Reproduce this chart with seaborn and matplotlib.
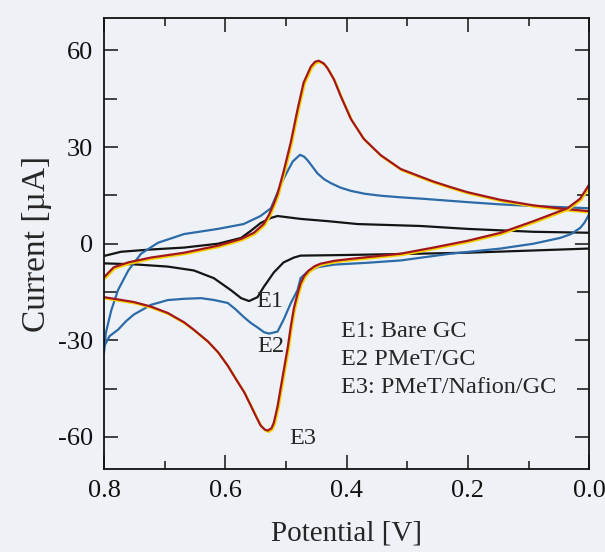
import numpy as np
import pandas as pd
import seaborn as sns
import matplotlib
matplotlib.use('Agg')
from matplotlib import pyplot as plt
import matplotlib.patheffects as pe
from matplotlib.ticker import MultipleLocator, FormatStrFormatter


## DADOS

# E3: PMeT/Nafion/GC  (vermelho)
e3_up_x = [0.800, 0.784, 0.760, 0.723, 0.668, 0.612, 0.574, 0.553, 0.537, 0.528, 0.520, 0.514, 0.504,
           0.492, 0.481, 0.471, 0.459, 0.452, 0.446, 0.438, 0.432, 0.421, 0.410, 0.393, 0.372, 0.344,
           0.311, 0.278, 0.257, 0.229, 0.201, 0.146, 0.092, 0.036, 0.0]
e3_up_y = [-10.4, -7.3, -5.8, -4.3, -2.8, -0.6, 1.5, 3.4, 6.1, 9.0, 12.5, 15.5, 22.4,
           31.6, 41.7, 50.0, 55.0, 56.5, 56.8, 56.0, 54.6, 51.0, 45.9, 38.7, 32.6, 27.5,
           23.2, 20.8, 19.3, 17.6, 16.0, 13.6, 11.9, 10.7, 10.1]
e3_dn_x = [0.800, 0.751, 0.723, 0.695, 0.668, 0.652, 0.629, 0.612, 0.596, 0.586, 0.569, 0.558, 0.549,
           0.542, 0.535, 0.530, 0.524, 0.520, 0.514, 0.509, 0.503, 0.497, 0.492, 0.487, 0.481, 0.476,
           0.470, 0.463, 0.453, 0.443, 0.420, 0.393, 0.311, 0.257, 0.201, 0.146, 0.092, 0.036, 0.015, 0.0]
e3_dn_y = [-16.6, -18.1, -19.5, -21.5, -24.4, -26.7, -30.3, -33.7, -37.9, -41.0, -46.1, -50.3, -53.8,
           -56.4, -57.7, -58.0, -57.3, -55.5, -50.5, -45.0, -38.5, -32.0, -25.5, -20.0, -15.5, -12.3,
           -10.0, -8.4, -7.0, -6.2, -5.3, -4.7, -3.1, -1.2, 0.9, 3.4, 7.0, 11.0, 14.0, 18.4]

# E2: PMeT/GC  (azul)
e2_up_x = [0.800, 0.797, 0.788, 0.777, 0.760, 0.739, 0.711, 0.668, 0.612, 0.570, 0.542, 0.525, 0.520,
           0.504, 0.489, 0.477, 0.470, 0.464, 0.456, 0.448, 0.437, 0.426, 0.410, 0.393, 0.370, 0.344,
           0.311, 0.278, 0.200, 0.146, 0.092, 0.0]
e2_up_y = [-33.7, -27.6, -20.6, -14.4, -8.3, -3.1, 0.3, 3.0, 4.6, 6.1, 8.6, 11.0, 13.2,
           20.2, 25.5, 27.6, 27.0, 25.8, 23.8, 21.8, 20.0, 18.8, 17.4, 16.4, 15.5, 14.9,
           14.4, 14.0, 12.9, 12.2, 11.7, 11.0]
e2_dn_x = [0.800, 0.791, 0.777, 0.764, 0.751, 0.736, 0.723, 0.695, 0.668, 0.640, 0.618, 0.596, 0.583,
           0.570, 0.558, 0.547, 0.536, 0.528, 0.514, 0.504, 0.492, 0.481, 0.476, 0.464, 0.448, 0.421,
           0.365, 0.311, 0.229, 0.146, 0.092, 0.048, 0.030, 0.015, 0.008, 0.0]
e2_dn_y = [-31.9, -28.7, -26.7, -24.1, -22.0, -20.4, -19.0, -17.5, -17.1, -16.9, -17.5, -18.4, -20.4,
           -22.7, -24.6, -26.0, -27.5, -27.9, -27.3, -23.6, -18.4, -14.4, -10.7, -8.6, -7.3, -6.5,
           -5.9, -5.2, -3.1, -1.5, 0.0, 1.8, 3.0, 4.9, 6.5, 9.2]

# E1: Bare GC  (preto)
e1_up_x = [0.800, 0.772, 0.723, 0.668, 0.612, 0.574, 0.558, 0.542, 0.525, 0.514, 0.476, 0.431,
           0.382, 0.278, 0.201, 0.092, 0.0]
e1_up_y = [-3.8, -2.5, -1.8, -1.2, 0.0, 1.8, 4.0, 6.4, 8.0, 8.6, 7.7, 7.0,
           6.1, 5.5, 4.6, 3.7, 3.4]
e1_dn_x = [0.800, 0.751, 0.695, 0.652, 0.619, 0.591, 0.574, 0.561, 0.547, 0.537, 0.520, 0.504,
           0.487, 0.476, 0.400, 0.311, 0.201, 0.092, 0.0]
e1_dn_y = [-6.1, -6.4, -7.1, -8.3, -10.7, -14.4, -16.9, -17.8, -16.6, -13.5, -8.9, -5.8,
           -4.3, -3.7, -3.5, -3.2, -2.8, -2.1, -1.5]

legenda = ['E1: Bare GC', 'E2 PMeT/GC', 'E3: PMeT/Nafion/GC']


## ESTILO

sns.set_style('ticks')
plt.rcParams['font.family'] = ['Liberation Serif', 'DejaVu Serif']
plt.rcParams['axes.unicode_minus'] = False
fundo = '#eef2f6'

fig = plt.figure(figsize=(6.05, 5.52), dpi=100, facecolor=fundo)
ax = fig.add_axes([0.172, 0.150, 0.802, 0.817])
ax.set_facecolor(fundo)

sombra = [pe.SimpleLineShadow(offset=(0.8, -1.0), shadow_color='#f5d000', alpha=1.0), pe.Normal()]

# E1 (preto)
sns.lineplot(x=e1_up_x, y=e1_up_y, sort=False, estimator=None, color='#141414', lw=1.6, ax=ax)
sns.lineplot(x=e1_dn_x, y=e1_dn_y, sort=False, estimator=None, color='#141414', lw=1.6, ax=ax)

# E2 (azul)
sns.lineplot(x=e2_up_x, y=e2_up_y, sort=False, estimator=None, color='#2c6aa8', lw=1.6, ax=ax)
sns.lineplot(x=e2_dn_x, y=e2_dn_y, sort=False, estimator=None, color='#2c6aa8', lw=1.6, ax=ax)

# E3 (vermelho com sombra amarela)
sns.lineplot(x=e3_up_x, y=e3_up_y, sort=False, estimator=None, color='#a3161c', lw=1.6, ax=ax,
             path_effects=sombra)
sns.lineplot(x=e3_dn_x, y=e3_dn_y, sort=False, estimator=None, color='#a3161c', lw=1.6, ax=ax,
             path_effects=sombra)


## EIXOS

ax.set_xlim(0.8, 0.0)
ax.set_ylim(-70, 70)
ax.xaxis.set_major_locator(MultipleLocator(0.2))
ax.xaxis.set_minor_locator(MultipleLocator(0.1))
ax.yaxis.set_major_locator(MultipleLocator(30))
ax.yaxis.set_minor_locator(MultipleLocator(15))
ax.xaxis.set_major_formatter(FormatStrFormatter('%.1f'))
ax.tick_params(which='both', direction='in', top=True, right=True, colors='#111111',
               labelsize=19, width=1.1)
ax.tick_params(which='major', length=10, pad=8)
ax.tick_params(axis='y', which='minor', length=9)
ax.tick_params(axis='x', which='minor', length=6)
for s in ax.spines.values():
    s.set_linewidth(1.3)
    s.set_color('#111111')

ax.set_xlabel('Potential [V]', fontsize=21, labelpad=13)
ax.set_ylabel('Current [µA]', fontsize=24, labelpad=4)

## ANOTAÇÕES

ax.text(0.527, -18, 'E1', fontsize=17.5, ha='center', va='center')
ax.text(0.525, -32, 'E2', fontsize=17.5, ha='center', va='center')
ax.text(0.472, -60.5, 'E3', fontsize=17.5, ha='center', va='center')
for i, t in enumerate(legenda):
    ax.text(0.41, -27.3 - 8.6 * i, t, fontsize=17.5, ha='left', va='center')

plt.savefig('out.png', dpi=100, facecolor=fundo)
